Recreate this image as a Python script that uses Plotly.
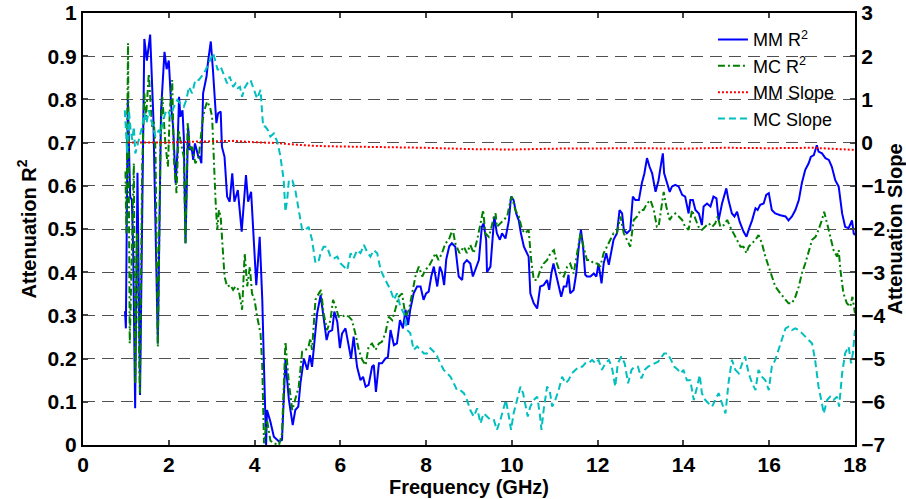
import plotly.graph_objects as go

# ---- MM R^2 (left axis) ----
freq_mm_r2 = [0.98, 1.00, 1.045, 1.10, 1.14, 1.17, 1.216, 1.27, 1.33, 1.43, 1.49, 1.566, 1.64, 1.745, 1.82,
              1.90, 1.95, 2.00, 2.06, 2.10, 2.14, 2.16, 2.20, 2.24, 2.27, 2.32, 2.35, 2.39, 2.43, 2.45, 2.49,
              2.53, 2.57, 2.61, 2.65, 2.69, 2.72, 2.76, 2.80, 2.88, 2.92, 2.98, 3.03, 3.07, 3.11, 3.15, 3.21,
              3.24, 3.30, 3.36, 3.42, 3.48, 3.53, 3.61, 3.70, 3.80, 3.85, 3.92, 3.98, 4.04, 4.12, 4.18, 4.22,
              4.27, 4.29, 4.37, 4.45, 4.57, 4.64, 4.72, 4.80, 4.89, 4.95, 5.02, 5.07, 5.15, 5.23, 5.29, 5.34,
              5.40, 5.46, 5.54, 5.61, 5.68, 5.73, 5.81, 5.86, 5.93, 5.99, 6.04, 6.12, 6.20, 6.25, 6.31, 6.39,
              6.47, 6.53, 6.59, 6.66, 6.74, 6.78, 6.83, 6.90, 6.97, 7.05, 7.11, 7.17, 7.25, 7.32, 7.39, 7.46,
              7.52, 7.58, 7.63, 7.71, 7.79, 7.87, 7.94, 8.00, 8.06, 8.12, 8.18, 8.26, 8.32, 8.37, 8.42, 8.47,
              8.54, 8.60, 8.68, 8.76, 8.84, 8.88, 8.95, 9.03, 9.09, 9.15, 9.23, 9.30, 9.34, 9.40, 9.42, 9.50,
              9.56, 9.59, 9.65, 9.72, 9.77, 9.85, 9.93, 9.98, 10.04, 10.10, 10.16, 10.21, 10.28, 10.35, 10.39,
              10.43, 10.51, 10.59, 10.66, 10.74, 10.82, 10.87, 10.92, 10.97, 11.04, 11.09, 11.15, 11.21, 11.27,
              11.32, 11.36, 11.44, 11.50, 11.56, 11.61, 11.66, 11.71, 11.75, 11.83, 11.91, 11.97, 12.02, 12.09,
              12.14, 12.20, 12.26, 12.31, 12.37, 12.45, 12.51, 12.57, 12.61, 12.68, 12.76, 12.82, 12.88, 12.96,
              13.03, 13.09, 13.15, 13.21, 13.27, 13.35, 13.42, 13.48, 13.52, 13.55, 13.62, 13.68, 13.73, 13.81,
              13.89, 13.97, 14.04, 14.12, 14.16, 14.22, 14.28, 14.36, 14.43, 14.47, 14.55, 14.63, 14.70, 14.77,
              14.82, 14.90, 15.00, 15.05, 15.13, 15.19, 15.25, 15.31, 15.40, 15.47, 15.52, 15.60, 15.68, 15.73,
              15.79, 15.87, 15.93, 15.99, 16.06, 16.14, 16.26, 16.38, 16.45, 16.53, 16.61, 16.69, 16.76, 16.84,
              16.92, 16.97, 17.04, 17.11, 17.15, 17.23, 17.31, 17.39, 17.46, 17.54, 17.62, 17.70, 17.77, 17.85,
              17.93, 17.97, 18.00]
mm_r2 = [0.31, 0.27, 0.80, 0.575, 0.567, 0.45, 0.085, 0.63, 0.116, 0.94, 0.89, 0.95, 0.76, 0.235, 0.775,
         0.91, 0.87, 0.89, 0.78, 0.737, 0.652, 0.606, 0.675, 0.806, 0.76, 0.775, 0.714, 0.467, 0.644, 0.737, 0.683,
         0.69, 0.66, 0.698, 0.683, 0.667, 0.667, 0.652, 0.814, 0.853, 0.891, 0.934, 0.868, 0.80, 0.745, 0.768, 0.772,
         0.69, 0.667, 0.575, 0.563, 0.629, 0.563, 0.59, 0.494, 0.625, 0.563, 0.586, 0.49, 0.37, 0.482, 0.336, 0.181,
         0.0, 0.081, 0.054, 0.019, 0.008, 0.012, 0.197, 0.105, 0.046, 0.081, 0.089, 0.143, 0.20, 0.174, 0.208, 0.181,
         0.243, 0.305, 0.347, 0.289, 0.243, 0.262, 0.266, 0.309, 0.285, 0.224, 0.258, 0.27, 0.228, 0.20, 0.251, 0.181,
         0.15, 0.158, 0.135, 0.139, 0.181, 0.185, 0.123, 0.189, 0.189, 0.20, 0.204, 0.266, 0.231, 0.235, 0.289, 0.27,
         0.313, 0.278, 0.313, 0.351, 0.367, 0.367, 0.336, 0.351, 0.355, 0.39, 0.413, 0.367, 0.413, 0.40, 0.37, 0.43,
         0.46, 0.467, 0.459, 0.39, 0.382, 0.42, 0.428, 0.42, 0.39, 0.405, 0.428, 0.505, 0.513, 0.475, 0.40, 0.413,
         0.505, 0.529, 0.49, 0.475, 0.49, 0.478, 0.52, 0.575, 0.567, 0.536, 0.52, 0.49, 0.459, 0.444, 0.436,
         0.351, 0.328, 0.316, 0.367, 0.37, 0.382, 0.359, 0.397, 0.42, 0.39, 0.374, 0.343, 0.367, 0.367,
         0.394, 0.351, 0.359, 0.397, 0.459, 0.498, 0.459, 0.394, 0.39, 0.39, 0.397, 0.39, 0.42, 0.374,
         0.42, 0.444, 0.417, 0.444, 0.475, 0.49, 0.544, 0.536, 0.498, 0.49, 0.498, 0.575, 0.567, 0.567,
         0.606, 0.629, 0.664, 0.644, 0.629, 0.586, 0.613, 0.652, 0.675, 0.629, 0.606, 0.586, 0.598, 0.602,
         0.598, 0.579, 0.575, 0.536, 0.567, 0.567, 0.544, 0.536, 0.509, 0.552, 0.559, 0.552, 0.575, 0.571,
         0.52, 0.559, 0.594, 0.567, 0.536, 0.529, 0.54, 0.517, 0.494, 0.482, 0.498, 0.52, 0.548, 0.544,
         0.556, 0.559, 0.579, 0.583, 0.544, 0.536, 0.532, 0.529, 0.52, 0.529, 0.544, 0.567, 0.606, 0.637,
         0.652, 0.667, 0.671, 0.694, 0.679, 0.675, 0.664, 0.66, 0.644, 0.613, 0.598, 0.536, 0.505, 0.502,
         0.52, 0.49, 0.486]

# ---- MC R^2 (left axis) ----
freq_mc_r2 = [0.99, 1.01, 1.05, 1.09, 1.15, 1.185, 1.22, 1.26, 1.325, 1.38, 1.43, 1.47, 1.535, 1.57, 1.61,
              1.65, 1.69, 1.745, 1.81, 1.85, 1.885, 1.92, 1.98, 2.025, 2.08, 2.12, 2.18, 2.23, 2.27, 2.35, 2.39,
              2.44, 2.49, 2.545, 2.62, 2.70, 2.78, 2.83, 2.895, 2.96, 3.01, 3.05, 3.09, 3.13, 3.17, 3.21, 3.24,
              3.30, 3.36, 3.44, 3.50, 3.555, 3.63, 3.71, 3.77, 3.83, 3.89, 3.94, 4.00, 4.06, 4.14, 4.18, 4.22,
              4.29, 4.37, 4.45, 4.57, 4.64, 4.72, 4.80, 4.88, 4.95, 5.03, 5.11, 5.19, 5.26, 5.30, 5.34, 5.42,
              5.50, 5.55, 5.61, 5.69, 5.77, 5.83, 5.89, 5.96, 6.04, 6.12, 6.20, 6.27, 6.35, 6.43, 6.51, 6.59,
              6.66, 6.74, 6.82, 6.90, 6.97, 7.05, 7.13, 7.21, 7.28, 7.36, 7.44, 7.52, 7.60, 7.67, 7.75, 7.83,
              7.91, 7.98, 8.06, 8.14, 8.22, 8.29, 8.37, 8.45, 8.53, 8.62, 8.68, 8.78, 8.88, 8.95, 9.03, 9.11,
              9.19, 9.27, 9.33, 9.38, 9.46, 9.51, 9.58, 9.62, 9.65, 9.73, 9.81, 9.89, 9.97, 10.00, 10.08, 10.16,
              10.24, 10.31, 10.39, 10.45, 10.51, 10.59, 10.66, 10.74, 10.82, 10.90, 10.98, 11.05, 11.13, 11.21,
              11.29, 11.36, 11.44, 11.52, 11.60, 11.67, 11.75, 11.83, 11.91, 11.99, 12.06, 12.14, 12.22, 12.30,
              12.37, 12.45, 12.53, 12.61, 12.68, 12.76, 12.84, 12.92, 13.00, 13.07, 13.15, 13.23, 13.31, 13.38,
              13.42, 13.48, 13.54, 13.60, 13.68, 13.73, 13.81, 13.89, 13.97, 14.04, 14.12, 14.20, 14.28, 14.35,
              14.43, 14.51, 14.59, 14.67, 14.74, 14.80, 14.86, 14.94, 15.02, 15.09, 15.17, 15.25, 15.33, 15.40,
              15.47, 15.52, 15.60, 15.68, 15.75, 15.83, 15.91, 15.99, 16.06, 16.14, 16.26, 16.38, 16.45, 16.53,
              16.61, 16.69, 16.76, 16.84, 16.92, 17.00, 17.08, 17.15, 17.23, 17.28, 17.35, 17.42, 17.50, 17.58,
              17.62, 17.66, 17.73, 17.81, 17.89, 17.94, 18.00]
mc_r2 = [0.633, 0.49, 0.93, 0.235, 0.49, 0.652, 0.143, 0.49, 0.12, 0.644, 0.814, 0.76, 0.86, 0.806, 0.737,
         0.752, 0.683, 0.228, 0.721, 0.806, 0.752, 0.698, 0.644, 0.775, 0.845, 0.66, 0.583, 0.729, 0.706, 0.667, 0.467,
         0.745, 0.683, 0.69, 0.652, 0.667, 0.745, 0.775, 0.795, 0.783, 0.76, 0.644, 0.567, 0.498, 0.544, 0.529, 0.475,
         0.39, 0.367, 0.37, 0.359, 0.367, 0.359, 0.313, 0.444, 0.367, 0.413, 0.351, 0.336, 0.297, 0.258, 0.181, 0.004,
         0.058, 0.01, 0.004, 0.0, 0.027, 0.239, 0.143, 0.081, 0.104, 0.135, 0.216, 0.22, 0.228, 0.247, 0.22, 0.336,
         0.351, 0.359, 0.305, 0.266, 0.289, 0.336, 0.32, 0.297, 0.297, 0.301, 0.297, 0.289, 0.258, 0.22, 0.197, 0.185,
         0.228, 0.235, 0.22, 0.235, 0.239, 0.258, 0.297, 0.289, 0.313, 0.343, 0.351, 0.297, 0.313, 0.351, 0.39, 0.413,
         0.39, 0.405, 0.413, 0.428, 0.444, 0.428, 0.444, 0.467, 0.475, 0.50, 0.467, 0.444, 0.459, 0.444, 0.463, 0.444,
         0.475, 0.513, 0.544, 0.49, 0.482, 0.498, 0.529, 0.536, 0.505, 0.513, 0.52, 0.529, 0.567, 0.575, 0.544, 0.529,
         0.498, 0.49, 0.498, 0.428, 0.382, 0.382, 0.405, 0.42, 0.428, 0.444, 0.451, 0.42, 0.397, 0.39,
         0.413, 0.42, 0.397, 0.444, 0.49, 0.459, 0.428, 0.428, 0.42, 0.42, 0.413, 0.444, 0.459, 0.475,
         0.49, 0.49, 0.529, 0.49, 0.475, 0.459, 0.521, 0.529, 0.544, 0.544, 0.559, 0.567, 0.544, 0.505,
         0.505, 0.552, 0.586, 0.552, 0.521, 0.529, 0.536, 0.529, 0.521, 0.505, 0.498, 0.544, 0.521, 0.505,
         0.498, 0.505, 0.513, 0.505, 0.513, 0.529, 0.505, 0.509, 0.521, 0.505, 0.49, 0.475, 0.459, 0.459,
         0.444, 0.459, 0.467, 0.475, 0.486, 0.467, 0.436, 0.413, 0.39, 0.367, 0.351, 0.336, 0.328, 0.328,
         0.343, 0.367, 0.397, 0.42, 0.451, 0.475, 0.482, 0.498, 0.521, 0.54, 0.513, 0.482, 0.451, 0.436,
         0.451, 0.405, 0.351, 0.328, 0.32, 0.343, 0.305]

# ---- MM Slope (right axis) ----
freq_mm_slope = [1.05, 1.5, 2.0, 2.5, 3.0, 3.5, 4.0, 4.5, 5.0, 5.5, 6.0, 7.0, 8.0, 9.0, 10.0, 11.0, 12.0,
                 13.0, 14.0, 15.0, 16.0, 17.0, 18.0]
mm_slope = [0.0, 0.0, 0.0, 0.02, 0.03, 0.04, 0.01, -0.01, -0.05, -0.08, -0.09, -0.10, -0.12, -0.15, -0.16,
            -0.14, -0.13, -0.13, -0.14, -0.12, -0.13, -0.12, -0.17]

# ---- MC Slope (right axis) ----
freq_mc_slope = [0.975, 1.03, 1.07, 1.11, 1.15, 1.185, 1.22, 1.26, 1.30, 1.34, 1.38, 1.43, 1.48, 1.535, 1.59,
                 1.64, 1.69, 1.77, 1.81, 1.87, 1.92, 1.98, 2.04, 2.12, 2.20, 2.27, 2.35, 2.41, 2.47, 2.545, 2.62,
                 2.70, 2.755, 2.82, 2.895, 2.97, 3.035, 3.09, 3.14, 3.21, 3.27, 3.32, 3.36, 3.42, 3.50, 3.555, 3.61,
                 3.66, 3.71, 3.765, 3.83, 3.905, 3.98, 4.06, 4.14, 4.20, 4.25, 4.31, 4.37, 4.45, 4.53, 4.60, 4.68,
                 4.72, 4.76, 4.80, 4.88, 4.95, 5.03, 5.11, 5.19, 5.26, 5.34, 5.42, 5.50, 5.54, 5.61, 5.69, 5.77,
                 5.85, 5.93, 6.00, 6.08, 6.16, 6.24, 6.31, 6.39, 6.47, 6.55, 6.62, 6.70, 6.78, 6.86, 6.94, 7.01,
                 7.09, 7.17, 7.25, 7.32, 7.40, 7.48, 7.56, 7.63, 7.71, 7.79, 7.87, 7.95, 8.02, 8.10, 8.18, 8.26,
                 8.33, 8.41, 8.49, 8.57, 8.645, 8.72, 8.80, 8.88, 8.955, 9.03, 9.11, 9.19, 9.27, 9.34, 9.42, 9.50,
                 9.58, 9.65, 9.73, 9.81, 9.86, 9.93, 9.98, 10.04, 10.12, 10.20, 10.26, 10.31, 10.37, 10.43, 10.51,
                 10.59, 10.65, 10.69, 10.74, 10.82, 10.88, 10.94, 11.01, 11.09, 11.17, 11.25, 11.32, 11.40, 11.48,
                 11.56, 11.64, 11.71, 11.79, 11.87, 11.95, 12.02, 12.10, 12.18, 12.26, 12.33, 12.41, 12.47, 12.55,
                 12.63, 12.71, 12.79, 12.86, 12.94, 13.02, 13.10, 13.17, 13.25, 13.33, 13.41, 13.55, 13.63, 13.71,
                 13.79, 13.87, 13.94, 14.00, 14.08, 14.16, 14.24, 14.32, 14.38, 14.43, 14.51, 14.59, 14.67, 14.74,
                 14.82, 14.90, 14.98, 15.05, 15.13, 15.21, 15.29, 15.37, 15.44, 15.52, 15.60, 15.68, 15.75, 15.83,
                 15.91, 15.99, 16.06, 16.14, 16.22, 16.30, 16.38, 16.45, 16.53, 16.61, 16.69, 16.76, 16.84, 16.92,
                 17.00, 17.07, 17.15, 17.23, 17.27, 17.35, 17.42, 17.50, 17.58, 17.63, 17.70, 17.77, 17.85, 17.91,
                 17.95, 18.00]
mc_slope = [0.75, -0.25, 0.75, 0.29, 0.06, 0.37, -0.25, -0.10, 0.06, 0.21, 0.37, 0.68, 0.45, 0.75, 0.52,
            0.37, 0.14, 0.29, 0.21, 0.52, 0.68, 0.75, 0.60, 0.83, 0.99, 0.91, 0.83, 0.99, 1.29, 1.14, 1.45,
            1.45, 1.53, 1.60, 1.76, 1.95, 2.07, 1.87, 1.68, 1.76, 1.60, 1.45, 1.37, 1.53, 1.29, 1.37, 1.26,
            1.29, 1.06, 1.26, 1.37, 1.45, 1.22, 1.02, 1.22, 0.37, 0.37, 0.29, 0.14, 0.21, 0.02, -0.30, -0.87,
            -1.60, -1.33, -0.87, -0.87, -1.10, -1.56, -2.02, -2.02, -1.95, -2.25, -2.79, -2.72, -2.56, -2.41, -2.41, -2.64,
            -2.68, -2.64, -2.79, -2.87, -2.95, -2.56, -2.68, -2.49, -2.56, -2.37, -2.52, -2.64, -2.49, -2.56, -2.95, -3.10,
            -3.26, -3.41, -3.64, -3.49, -3.80, -3.95, -4.34, -4.41, -4.80, -4.72, -4.80, -4.88, -4.88, -4.76, -4.84, -4.95,
            -5.11, -5.26, -5.34, -5.42, -5.57, -5.73, -5.73, -5.80, -5.96, -6.19, -6.34, -6.15, -6.50, -6.27, -6.34, -6.42,
            -6.42, -6.65, -6.42, -6.11, -5.96, -6.34, -6.65, -6.27, -5.96, -5.65, -5.80, -6.04, -6.34, -6.11, -5.96,
            -5.88, -6.27, -6.65, -6.19, -5.65, -5.73, -6.11, -5.96, -5.73, -5.42, -5.57, -5.50, -5.34, -5.26,
            -5.19, -5.19, -5.11, -5.11, -5.03, -5.11, -5.03, -5.26, -5.11, -5.03, -5.19, -5.65, -5.11, -4.95,
            -5.11, -5.57, -5.26, -5.19, -5.19, -5.46, -5.26, -5.19, -5.15, -5.11, -5.07, -4.88, -4.88, -5.03,
            -5.19, -5.26, -5.34, -5.26, -5.50, -5.50, -5.96, -5.65, -5.38, -5.80, -5.96, -6.04, -6.11, -5.96,
            -5.80, -6.04, -6.27, -5.57, -5.03, -5.26, -5.34, -5.11, -4.95, -5.34, -5.57, -5.73, -5.26, -5.42,
            -5.50, -5.73, -5.19, -5.03, -4.80, -4.57, -4.30, -4.26, -4.34, -4.30, -4.34, -4.41, -4.49, -4.57,
            -4.65, -5.03, -5.65, -6.04, -6.27, -5.96, -5.88, -5.96, -5.88, -6.11, -5.34, -4.88, -4.72, -5.11,
            -4.88, -4.34]

x_ticks = list(range(0, 19, 2))
r2_ticks = [0, 0.1, 0.2, 0.3, 0.4, 0.5, 0.6, 0.7, 0.8, 0.9, 1]
r2_tick_text = ["0", "0.1", "0.2", "0.3", "0.4", "0.5", "0.6", "0.7", "0.8", "0.9", "1"]
slope_ticks = list(range(-7, 4))

FONT = "Liberation Sans, Arial, Helvetica, sans-serif"
TICK_FONT = dict(size=21, weight="bold", family=FONT, color="black")
TITLE_FONT = dict(size=20, weight="bold", family=FONT, color="black")

fig = go.Figure()
fig.add_trace(go.Scatter(x=freq_mm_r2, y=mm_r2, name="MM R<sup>2</sup>", mode="lines",
                         line=dict(color="#0000FF", width=2)))
fig.add_trace(go.Scatter(x=freq_mc_r2, y=mc_r2, name="MC R<sup>2</sup>", mode="lines",
                         line=dict(color="#008000", width=2, dash="7px,3px,2px,3px")))
fig.add_trace(go.Scatter(x=freq_mm_slope, y=mm_slope, name="MM Slope", mode="lines", yaxis="y2",
                         line=dict(color="#FF0000", width=2, dash="2px,2px")))
fig.add_trace(go.Scatter(x=freq_mc_slope, y=mc_slope, name="MC Slope", mode="lines", yaxis="y2",
                         line=dict(color="#00BFBF", width=2, dash="7px,4px")))

fig.update_layout(
    width=906, height=499,
    margin=dict(l=83, r=51, t=13, b=54),
    paper_bgcolor="white", plot_bgcolor="white",
    font=dict(family=FONT, color="black"),
    showlegend=True,
    legend=dict(x=0.816, y=0.981, xanchor="left", yanchor="top",
                bgcolor="rgba(0,0,0,0)", borderwidth=0,
                font=dict(size=18, family=FONT, color="black"),
                tracegroupgap=0),
    xaxis=dict(range=[0, 18], tickvals=x_ticks, ticks="inside", ticklen=5, tickwidth=1.5,
               showline=True, linewidth=2, linecolor="black", mirror="ticks",
               showgrid=False, zeroline=False, automargin=False,
               tickfont=TICK_FONT,
               title=dict(text="Frequency (GHz)", font=TITLE_FONT, standoff=4)),
    yaxis=dict(range=[0, 1], tickvals=r2_ticks, ticktext=r2_tick_text, ticks="inside", ticklen=5,
               tickwidth=1.5, showline=True, linewidth=2, linecolor="black",
               showgrid=True, gridcolor="#505050", gridwidth=1, griddash="12px,7px",
               zeroline=False, automargin=False,
               tickfont=TICK_FONT,
               title=dict(text="Attenuation R<sup>2</sup>", font=TITLE_FONT, standoff=6)),
    yaxis2=dict(range=[-7, 3], tickvals=slope_ticks, overlaying="y", side="right",
                ticks="inside", ticklen=5, tickwidth=1.5, showline=True, linewidth=2, linecolor="black",
                showgrid=False, zeroline=False, automargin=False,
                tickfont=TICK_FONT,
                title=dict(text="Attenuation Slope", font=TITLE_FONT, standoff=4)),
)

fig.write_html("out.html")
